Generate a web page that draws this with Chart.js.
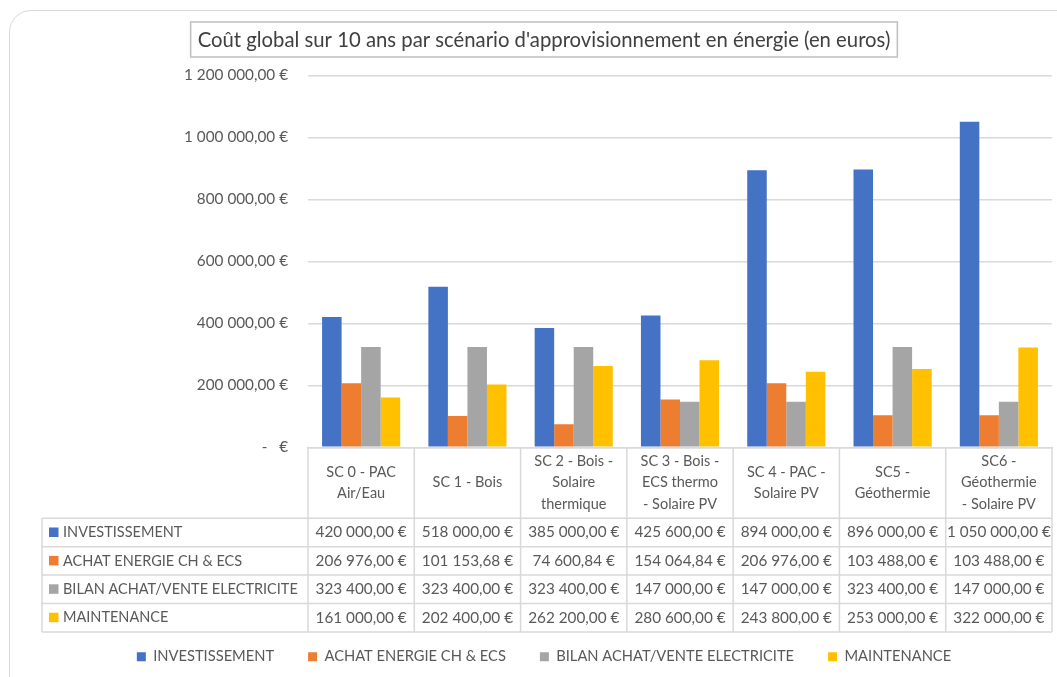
<!DOCTYPE html>
<html>
<head>
<meta charset="utf-8">
<script src="https://cdn.jsdelivr.net/npm/chart.js@4.4.0/dist/chart.umd.min.js"></script>
<style>
  html, body { margin: 0; padding: 0; background: #fff; }
  #wrap { position: relative; width: 1057px; height: 677px; overflow: hidden; }
  #frame { position: absolute; left: 9px; top: 10px; width: 1090px; height: 700px;
           border: 1.5px solid #d9d9d9; border-radius: 22px; }
  canvas { position: absolute; left: 0; top: 0; }
</style>
</head>
<body>
<div id="wrap">
  <div id="frame"></div>
  <canvas id="chart" width="1057" height="677"></canvas>
</div>
<script>
const categories = [
  ["SC 0 - PAC", "Air/Eau"],
  ["SC 1 - Bois"],
  ["SC 2 - Bois -", "Solaire", "thermique"],
  ["SC 3 - Bois -", "ECS thermo", "- Solaire PV"],
  ["SC 4 - PAC -", "Solaire PV"],
  ["SC5 -", "Géothermie"],
  ["SC6 -", "Géothermie", "- Solaire PV"]
];
const seriesNames = ["INVESTISSEMENT", "ACHAT ENERGIE CH & ECS", "BILAN ACHAT/VENTE ELECTRICITE", "MAINTENANCE"];
const investissement = [420000, 518000, 385000, 425600, 894000, 896000, 1050000];
const achatEnergie = [206976, 101153.68, 74600.84, 154064.84, 206976, 103488, 103488];
const bilanElectricite = [323400, 323400, 323400, 147000, 147000, 323400, 147000];
const maintenance = [161000, 202400, 262200, 280600, 243800, 253000, 322000];
const yTicks = [0, 200000, 400000, 600000, 800000, 1000000, 1200000];
const colors = ["#4472C4", "#ED7D31", "#A5A5A5", "#FFC000"];

const FONT = "Lato, 'Open Sans', sans-serif";
const TEXT = "#595959";
const LINE = "#d9d9d9";

const euro = new Intl.NumberFormat("fr-FR", { style: "currency", currency: "EUR", minimumFractionDigits: 2 });
// excel shows plain spaces and "-   €" for zero
const fmt = (v) => (v === 0 ? "-   €" : euro.format(v).replace(/[\u202f\u00a0]/g, " "));

// box around the title, like the excel one
const titleBox = {
  id: "titleBox",
  afterDraw(chart) {
    const t = chart.titleBlock;
    const ctx = chart.ctx;
    const f = chart.options.plugins.title.font;
    ctx.save();
    ctx.font = f.size + "px " + FONT;
    const w = ctx.measureText(chart.options.plugins.title.text).width;
    const cx = (t.left + t.right) / 2;
    ctx.strokeStyle = "#bfbfbf";
    ctx.lineWidth = 1.5;
    ctx.strokeRect(cx - w / 2 - 7, t.top, w + 14, 35);
    ctx.restore();
  }
};

// excel style data table under the x axis
const dataTable = {
  id: "dataTable",
  afterDraw(chart) {
    const { ctx, chartArea } = chart;
    const x = chart.scales.x;
    const rows = chart.data.datasets;
    const top = chartArea.bottom;
    const headerH = 71;
    const rowH = 28.4;
    const tableLeft = 42;
    const half = (x.getPixelForValue(1) - x.getPixelForValue(0)) / 2;
    const edges = categories.map((c, i) => x.getPixelForValue(i) - half);
    edges.push(x.getPixelForValue(categories.length - 1) + half);
    const right = edges[edges.length - 1];
    const bottom = top + headerH + rowH * rows.length;

    ctx.save();
    ctx.strokeStyle = LINE;
    ctx.lineWidth = 1.5;
    ctx.beginPath();
    edges.forEach((ex) => { ctx.moveTo(ex, top); ctx.lineTo(ex, bottom); });
    ctx.moveTo(tableLeft, top + headerH); ctx.lineTo(tableLeft, bottom);
    for (let r = 0; r <= rows.length; r++) {
      const y = top + headerH + r * rowH;
      ctx.moveTo(tableLeft, y); ctx.lineTo(right, y);
    }
    ctx.stroke();

    ctx.fillStyle = TEXT;
    ctx.font = "14.5px " + FONT;
    ctx.textAlign = "center";
    ctx.textBaseline = "middle";
    categories.forEach((lines, i) => {
      const cx = x.getPixelForValue(i);
      const cy = top + headerH / 2;
      lines.forEach((ln, k) => {
        ctx.fillText(ln, cx, cy + (k - (lines.length - 1) / 2) * 21.5);
      });
    });

    rows.forEach((ds, r) => {
      const cy = top + headerH + r * rowH + rowH / 2;
      ctx.fillStyle = ds.backgroundColor;
      ctx.fillRect(49, cy - 5, 9.5, 9.5);
      ctx.fillStyle = TEXT;
      ctx.font = "14.5px " + FONT;
      ctx.textAlign = "left";
      ctx.fillText(ds.label, 63, cy);
      ctx.textAlign = "center";
      ctx.font = "15.3px " + FONT;
      ds.data.forEach((v, i) => {
        ctx.save();
        ctx.beginPath();
        ctx.rect(edges[i] + 1, cy - rowH / 2, edges[i + 1] - edges[i] - 2, rowH);
        ctx.clip();
        ctx.fillText(fmt(v), x.getPixelForValue(i), cy);
        ctx.restore();
      });
    });
    ctx.restore();
  }
};

new Chart(document.getElementById("chart"), {
  type: "bar",
  data: {
    labels: categories,
    datasets: [
      { label: seriesNames[0], data: investissement, backgroundColor: colors[0] },
      { label: seriesNames[1], data: achatEnergie, backgroundColor: colors[1] },
      { label: seriesNames[2], data: bilanElectricite, backgroundColor: colors[2] },
      { label: seriesNames[3], data: maintenance, backgroundColor: colors[3] }
    ]
  },
  options: {
    responsive: false,
    animation: false,
    events: [],
    layout: { padding: { left: 36, right: 5, top: 22, bottom: 3 } },
    datasets: { bar: { categoryPercentage: 0.735, barPercentage: 1 } },
    scales: {
      x: {
        grid: { display: false },
        border: { display: true, color: LINE, width: 1.5 },
        ticks: { display: false },
        afterFit: (s) => { s.height = 168; }
      },
      y: {
        min: 0,
        max: 1200000,
        afterBuildTicks: (s) => { s.ticks = yTicks.map((v) => ({ value: v })); },
        afterFit: (s) => { s.width = 272; },
        grid: { color: LINE, lineWidth: 1.5, drawTicks: false },
        border: { display: false },
        ticks: {
          padding: 20,
          color: TEXT,
          font: { family: FONT, size: 15.3 },
          callback: (v) => fmt(v)
        }
      }
    },
    plugins: {
      title: {
        display: true,
        text: "Coût global sur 10 ans par scénario d'approvisionnement en énergie (en euros)",
        color: "#404040",
        font: { family: FONT, size: 20.3, weight: "normal" },
        padding: { top: 6, bottom: 23 }
      },
      legend: {
        position: "bottom",
        maxHeight: 60,
        labels: {
          boxWidth: 9,
          boxHeight: 9,
          padding: 34,
          color: TEXT,
          font: { family: FONT, size: 14.7 }
        }
      },
      tooltip: { enabled: false }
    }
  },
  plugins: [titleBox, dataTable]
});
</script>
</body>
</html>
